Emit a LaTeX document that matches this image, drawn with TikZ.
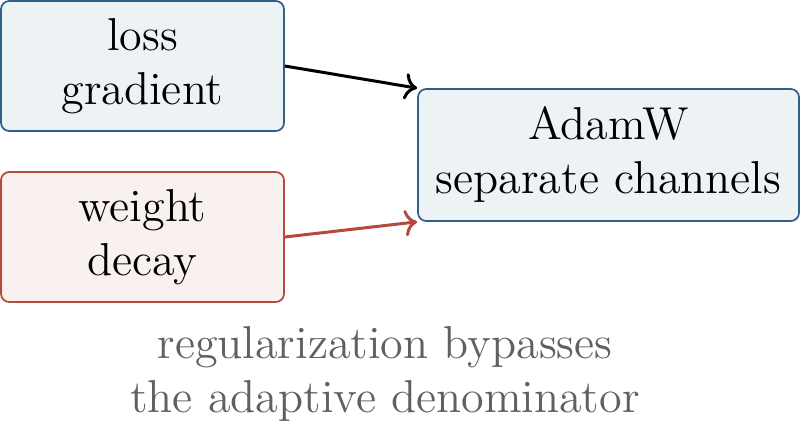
\documentclass[tikz,border=0pt]{standalone}
\usetikzlibrary{arrows.meta}
\definecolor{bluebd}{HTML}{2F5F8A}
\definecolor{bluefill}{HTML}{EDF2F5}
\definecolor{redbd}{HTML}{B5493B}
\definecolor{redfill}{HTML}{F8F1F0}
\definecolor{redarrow}{HTML}{B5493B}
\definecolor{notegray}{HTML}{606060}
\begin{document}
\begin{tikzpicture}[x=0.26667pt,y=-0.26667pt,
  box/.style={draw, rounded corners=2.2pt, align=center, font=\fontsize{12.3}{14.4}\selectfont, inner sep=0pt, line width=0.45pt},
  bluebox/.style={box, draw=bluebd, fill=bluefill},
  redbox/.style={box, draw=redbd, fill=redfill},
  conn/.style={->, line width=0.8pt},
  note/.style={font=\fontsize{12.3}{14.4}\selectfont, text=notegray, align=center}]
\useasboundingbox (0,0) rectangle (800,422);
\node[bluebox, minimum width=75.47pt, minimum height=34.67pt] (loss) at (142.5,66) {loss\\gradient};
\node[redbox, minimum width=75.47pt, minimum height=34.67pt] (wd) at (142.5,237) {weight\\decay};
\node[bluebox, minimum width=101.6pt, minimum height=35.2pt] (adam) at (608.5,155) {AdamW\\separate channels};
\draw[conn, black] (loss.east) -- (adam.north west);
\draw[conn, redarrow] (wd.east) -- (adam.south west);
\node[note] (txt) at (385,374) {regularization bypasses\\the adaptive denominator};
\end{tikzpicture}
\end{document}
